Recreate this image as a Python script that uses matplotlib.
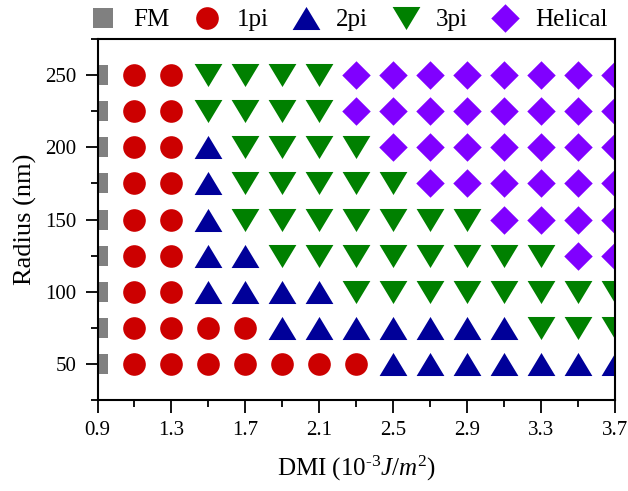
import numpy as np
import matplotlib
matplotlib.use('Agg')
import matplotlib.pyplot as plt
from matplotlib.ticker import MultipleLocator, FixedLocator

plt.rcParams['font.family'] = ['Liberation Serif', 'DejaVu Serif']
plt.rcParams['mathtext.fontset'] = 'custom'
plt.rcParams['mathtext.rm'] = 'Liberation Serif'
plt.rcParams['mathtext.it'] = 'Liberation Serif:italic'

# DMI values (columns) and radius values (rows)
dmi = [0.9, 1.1, 1.3, 1.5, 1.7, 1.9, 2.1, 2.3, 2.5, 2.7, 2.9, 3.1, 3.3, 3.5, 3.7]
radius = [50, 75, 100, 125, 150, 175, 200, 225, 250]

# phase map, one string per radius row: F=FM, 1=1pi, 2=2pi, 3=3pi, H=Helical
phase_rows = [
    'F11111112222222',   # 50
    'F11112222222333',   # 75
    'F11222233333333',   # 100
    'F112233333333HH',   # 125
    'F1123333333HHHH',   # 150
    'F11233333HHHHHH',   # 175
    'F1123333HHHHHHH',   # 200
    'F113333HHHHHHHH',   # 225
    'F113333HHHHHHHH',   # 250
]

phases = ['F', '1', '2', '3', 'H']
labels = ['FM', '1pi', '2pi', '3pi', 'Helical']
colors = ['#808080', '#CC0000', '#000099', '#008000', '#8000FF']

tri_up = [(-1, -0.83), (1, -0.83), (0, 0.83)]
tri_dn = [(-1, 0.83), (1, 0.83), (0, -0.83)]
diamond = [(0, 1), (1, 0), (0, -1), (-1, 0)]
markers = ['s', 'o', tri_up, tri_dn, diamond]
msizes = [14, 16.3, 20, 20, 20.5]

fig = plt.figure(figsize=(6.28, 4.91), dpi=100)
ax = fig.add_axes([0.1553, 0.1853, 0.824, 0.7353])

for p, lab, c, m, ms in zip(phases, labels, colors, markers, msizes):
    xs, ys = [], []
    for r, row in zip(radius, phase_rows):
        for d, ch in zip(dmi, row):
            if ch == p:
                xs.append(d)
                ys.append(r)
    ax.plot(xs, ys, linestyle='none', marker=m, markersize=ms, color=c,
            markeredgewidth=0, label=lab)

ax.set_xlim(0.9, 3.7)
ax.set_ylim(25, 275)
ax.xaxis.set_major_locator(FixedLocator([0.9, 1.3, 1.7, 2.1, 2.5, 2.9, 3.3, 3.7]))
ax.xaxis.set_minor_locator(FixedLocator([1.1, 1.5, 1.9, 2.3, 2.7, 3.1, 3.5]))
ax.set_xticklabels(['0.9', '1.3', '1.7', '2.1', '2.5', '2.9', '3.3', '3.7'])
ax.yaxis.set_major_locator(MultipleLocator(50))
ax.yaxis.set_minor_locator(MultipleLocator(25))
ax.tick_params(which='major', direction='out', length=9, width=1.3, labelsize=15, pad=6)
ax.tick_params(which='minor', direction='out', length=5, width=1.3)
for s in ax.spines.values():
    s.set_linewidth(1.5)

ax.set_xlabel(r'DMI (10$^{\mathrm{\text{-}3}}$$\it{J/m^2}$)', fontsize=18, labelpad=10)
ax.set_ylabel('Radius (nm)', fontsize=19, labelpad=6)

fig.legend(loc='center left', bbox_to_anchor=(0.144, 0.959), ncol=5, frameon=False,
           fontsize=18, handlelength=1.0, handletextpad=0.7, columnspacing=1.0,
           borderpad=0, borderaxespad=0, numpoints=1)

fig.savefig('out.png', dpi=100)
